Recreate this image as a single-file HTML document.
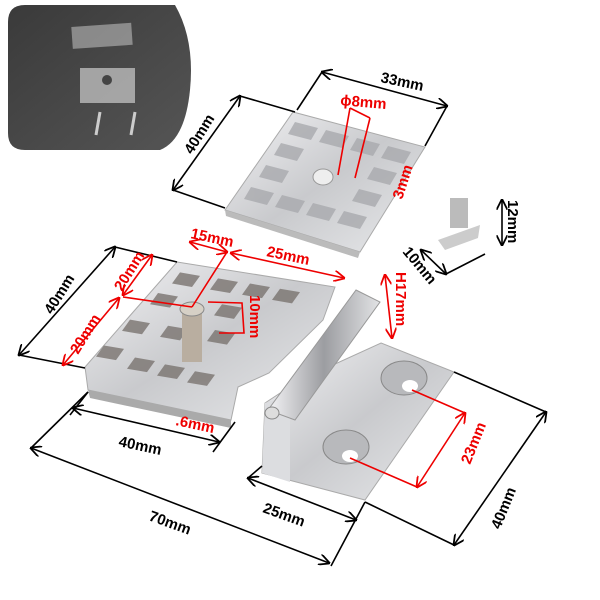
<!DOCTYPE html>
<html><head><meta charset="utf-8"><style>body{margin:0;background:#fff}svg{display:block}text{font-family:"Liberation Sans",sans-serif;font-weight:bold}</style></head><body>
<svg width="600" height="600" viewBox="0 0 600 600">
<defs>
<linearGradient id="ch" x1="0" y1="0" x2="1" y2="1"><stop offset="0" stop-color="#f2f2f4"/><stop offset=".5" stop-color="#c9cacd"/><stop offset="1" stop-color="#e8e9eb"/></linearGradient>
<linearGradient id="kn" x1="0" y1="0" x2="1" y2="0"><stop offset="0" stop-color="#f4f4f6"/><stop offset=".5" stop-color="#9c9da1"/><stop offset="1" stop-color="#e2e3e5"/></linearGradient>
<linearGradient id="dk" x1="0" y1="0" x2="1" y2="1"><stop offset="0" stop-color="#3a3a3a"/><stop offset="1" stop-color="#555"/></linearGradient>
<marker id="a" viewBox="0 0 10 10" refX="9" refY="5" markerWidth="7" markerHeight="7" orient="auto-start-reverse"><path d="M0,0 L10,5 L0,10" fill="none" stroke="#000" stroke-width="1.6"/></marker>
<marker id="r" viewBox="0 0 10 10" refX="9" refY="5" markerWidth="7" markerHeight="7" orient="auto-start-reverse"><path d="M0,0 L10,5 L0,10" fill="none" stroke="#e00" stroke-width="1.6"/></marker>
</defs>
<!-- inset -->
<path d="M8,22 Q8,5 25,5 L175,5 Q195,40 190,90 Q185,140 160,150 L25,150 Q8,150 8,133Z" fill="url(#dk)"/>
<rect x="72" y="25" width="60" height="22" fill="#bbb" opacity=".6" transform="rotate(-4 100 36)"/>
<rect x="80" y="68" width="55" height="35" fill="#ccc" opacity=".7"/>
<circle cx="107" cy="80" r="5" fill="#444"/>
<line x1="100" y1="112" x2="96" y2="135" stroke="#ccc" stroke-width="3"/><line x1="135" y1="112" x2="131" y2="135" stroke="#ccc" stroke-width="3"/>
<!-- top plate -->
<polygon points="225,210 293,112 425,147 360,252" fill="url(#ch)" stroke="#aaa"/>
<polygon points="225,210 360,252 358,258 226,216" fill="#bbb"/>
<g fill="#a9aaae" opacity=".8">
<polygon points="295,122 318,128 311,140 288,134"/><polygon points="326,130 349,136 342,148 319,142"/><polygon points="357,138 380,144 373,156 350,150"/><polygon points="388,146 411,152 404,164 381,158"/>
<polygon points="281,143 304,149 297,161 274,155"/><polygon points="374,167 397,173 390,185 367,179"/>
<polygon points="266,165 289,171 282,183 259,177"/><polygon points="359,189 382,195 375,207 352,201"/>
<polygon points="251,187 274,193 267,205 244,199"/><polygon points="282,195 305,201 298,213 275,207"/><polygon points="313,203 336,209 329,221 306,215"/><polygon points="344,211 367,217 360,229 337,223"/>
</g>
<ellipse cx="323" cy="177" rx="10" ry="8" fill="#eee" stroke="#999"/>
<!-- screw -->
<rect x="450" y="198" width="18" height="30" fill="#bbb"/><path d="M438,240 L480,225 L478,238 L445,250Z" fill="#ccc"/>
<!-- left plate -->
<polygon points="177,262 335,287 323,320 269,373 238,387 231,420 88,390 85,367" fill="url(#ch)" stroke="#aaa"/>
<polygon points="88,390 231,420 231,428 90,398" fill="#aaa"/>
<g fill="#7a7470" opacity=".8" transform="matrix(1,0,0,0.86,0,29)">
<polygon points="180,283 200,287 192,300 172,296"/><polygon points="218,290 238,294 230,307 210,303"/><polygon points="250,296 270,300 262,313 242,309"/><polygon points="280,302 300,306 292,319 272,315"/>
<polygon points="158,307 178,311 170,324 150,320"/><polygon points="222,320 242,324 234,337 214,333"/>
<polygon points="130,338 150,342 142,355 122,351"/><polygon points="168,345 188,349 180,362 160,358"/><polygon points="215,350 235,354 227,367 207,363"/>
<polygon points="104,368 124,372 116,385 96,381"/><polygon points="135,382 155,386 147,399 127,395"/><polygon points="165,390 185,394 177,407 157,403"/><polygon points="195,398 215,402 207,415 187,411"/>
</g>
<rect x="182" y="307" width="20" height="55" fill="#b9aea0"/><ellipse cx="192" cy="309" rx="12" ry="7" fill="#d6d0c6" stroke="#888"/>
<!-- right leaf -->
<polygon points="381,343 454,372 365,500 262,473 265,403 300,380" fill="url(#ch)" stroke="#aaa"/>
<polygon points="265,403 290,395 290,482 262,473" fill="#dcdde0"/>
<!-- knuckle -->
<polygon points="356,290 380,302 295,420 268,410" fill="url(#kn)" stroke="#999"/>
<ellipse cx="272" cy="413" rx="7" ry="6" fill="#ddd" stroke="#888"/>
<ellipse cx="404" cy="378" rx="23" ry="17" fill="#b8b9bc" stroke="#888"/><ellipse cx="410" cy="386" rx="8" ry="6" fill="#fff"/>
<ellipse cx="346" cy="447" rx="23" ry="17" fill="#b8b9bc" stroke="#888"/><ellipse cx="350" cy="456" rx="8" ry="6" fill="#fff"/>
<!-- black dims -->
<g stroke="#000" stroke-width="1.6" fill="none">
<line x1="322" y1="72" x2="447" y2="106" marker-start="url(#a)" marker-end="url(#a)"/>
<line x1="322" y1="72" x2="297" y2="110"/><line x1="447" y1="106" x2="425" y2="146"/>
<line x1="240" y1="96" x2="173" y2="190" marker-start="url(#a)" marker-end="url(#a)"/>
<line x1="240" y1="96" x2="295" y2="112"/><line x1="173" y1="190" x2="225" y2="208"/>
<line x1="115" y1="247" x2="19" y2="355" marker-start="url(#a)" marker-end="url(#a)"/>
<line x1="115" y1="247" x2="177" y2="262"/><line x1="19" y1="355" x2="85" y2="368"/>
<line x1="73" y1="408" x2="219" y2="442" marker-start="url(#a)" marker-end="url(#a)"/>
<line x1="88" y1="392" x2="70" y2="415"/><line x1="235" y1="422" x2="213" y2="452"/>
<line x1="31" y1="448" x2="329" y2="563" marker-start="url(#a)" marker-end="url(#a)"/>
<line x1="31" y1="448" x2="88" y2="392"/><line x1="365" y1="502" x2="331" y2="566"/>
<line x1="248" y1="478" x2="356" y2="520" marker-start="url(#a)" marker-end="url(#a)"/>
<line x1="248" y1="478" x2="262" y2="466"/>
<line x1="546" y1="412" x2="454" y2="545" marker-start="url(#a)" marker-end="url(#a)"/>
<line x1="454" y1="372" x2="546" y2="412"/><line x1="365" y1="502" x2="454" y2="545"/>
<line x1="502" y1="200" x2="502" y2="245" marker-start="url(#a)" marker-end="url(#a)"/>
<line x1="421" y1="250" x2="446" y2="274" marker-start="url(#a)" marker-end="url(#a)"/>
<line x1="446" y1="274" x2="485" y2="254"/>
</g>
<!-- red dims -->
<g stroke="#e00" stroke-width="1.6" fill="none">
<line x1="350" y1="108" x2="338" y2="175"/><line x1="370" y1="118" x2="355" y2="178"/>
<line x1="350" y1="108" x2="370" y2="118"/>
<line x1="190" y1="242" x2="227" y2="252" marker-start="url(#r)" marker-end="url(#r)"/>
<line x1="231" y1="253" x2="344" y2="278" marker-start="url(#r)" marker-end="url(#r)"/>
<line x1="227" y1="252" x2="192" y2="307"/>
<line x1="152" y1="255" x2="123" y2="295" marker-start="url(#r)" marker-end="url(#r)"/>
<line x1="119" y1="298" x2="63" y2="365" marker-start="url(#r)" marker-end="url(#r)"/>
<line x1="123" y1="297" x2="192" y2="307"/>
<path d="M208,302 L242,303 L244,333 L219,333"/>
<line x1="385" y1="275" x2="392" y2="338" marker-start="url(#r)" marker-end="url(#r)"/>
<line x1="465" y1="413" x2="417" y2="487" marker-start="url(#r)" marker-end="url(#r)"/>
<line x1="412" y1="390" x2="465" y2="413"/><line x1="350" y1="458" x2="417" y2="487"/>
</g>
<!-- labels -->
<g font-size="15" fill="#000">
<text x="380" y="82" transform="rotate(12 380 82)">33mm</text>
<text x="192" y="155" transform="rotate(-58 192 155)">40mm</text>
<text x="52" y="315" transform="rotate(-58 52 315)">40mm</text>
<text x="118" y="446" transform="rotate(12 118 446)">40mm</text>
<text x="148" y="520" transform="rotate(20 148 520)">70mm</text>
<text x="262" y="512" transform="rotate(20 262 512)">25mm</text>
<text x="500" y="530" transform="rotate(-68 500 530)">40mm</text>
<text x="508" y="200" transform="rotate(90 508 200)">12mm</text>
<text x="402" y="252" transform="rotate(50 402 252)">10mm</text>
</g>
<g font-size="15" fill="#e00">
<text x="340" y="105" transform="rotate(5 340 105)">ϕ8mm</text>
<text x="402" y="200" transform="rotate(-72 402 200)">3mm</text>
<text x="190" y="238" transform="rotate(12 190 238)">15mm</text>
<text x="266" y="256" transform="rotate(12 266 256)">25mm</text>
<text x="122" y="292" transform="rotate(-58 122 292)">20mm</text>
<text x="78" y="355" transform="rotate(-58 78 355)">20mm</text>
<text x="250" y="295" transform="rotate(90 250 295)">10mm</text>
<text x="396" y="272" transform="rotate(90 396 272)">H17mm</text>
<text x="175" y="425" transform="rotate(12 175 425)">.6mm</text>
<text x="470" y="465" transform="rotate(-68 470 465)">23mm</text>
</g>
</svg>
</body></html>
